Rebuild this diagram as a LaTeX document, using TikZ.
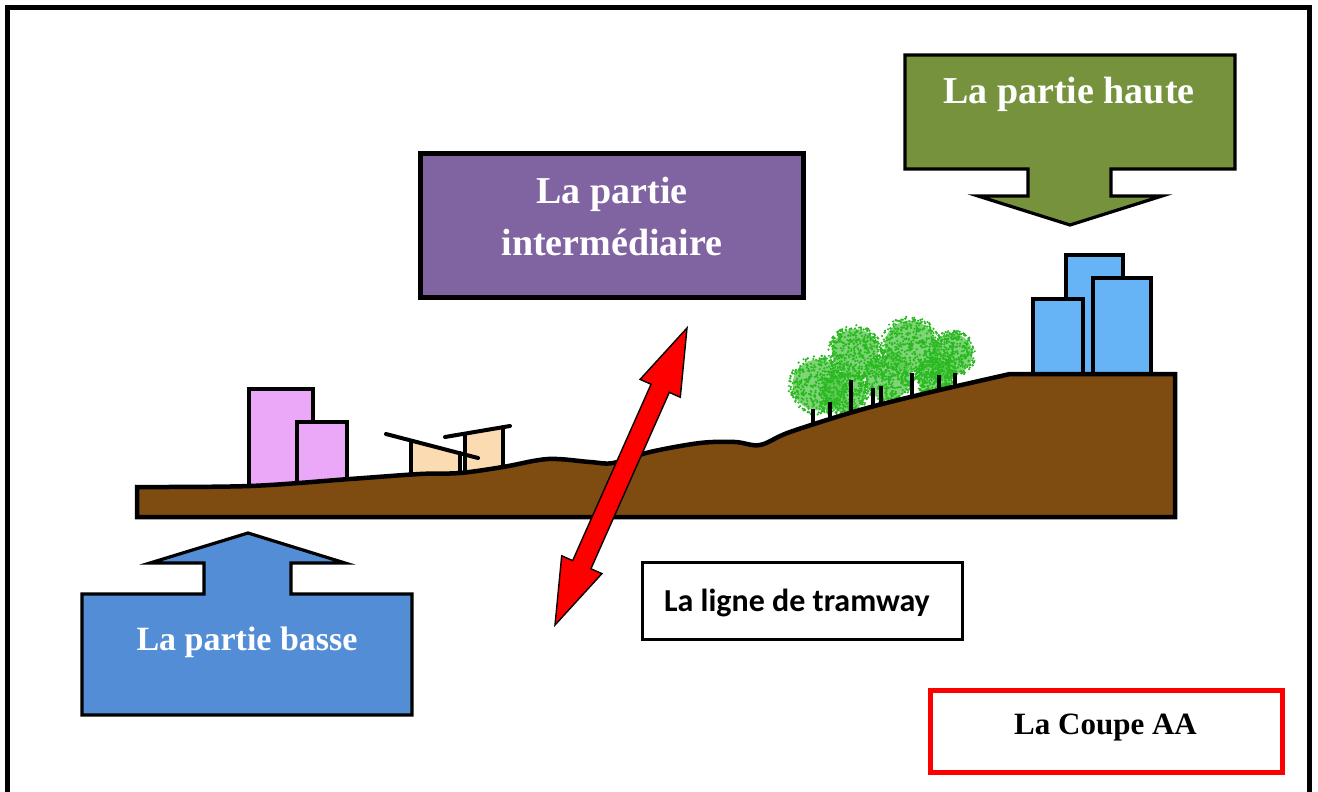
\documentclass[tikz,border=0pt]{standalone}
\usepackage{fontspec}
\setmainfont{Liberation Serif}
\newfontfamily\labelsans{Carlito}
\usetikzlibrary{calc}
\definecolor{groundbrown}{RGB}{126,75,17}
\definecolor{pinkbldg}{RGB}{236,168,248}
\definecolor{tanbldg}{RGB}{250,219,178}
\definecolor{bluebldg}{RGB}{102,180,245}
\definecolor{treegreen}{RGB}{40,185,30}
\definecolor{hautegreen}{RGB}{118,146,60}
\definecolor{bassblue}{RGB}{83,141,213}
\definecolor{midpurple}{RGB}{128,100,162}
\tikzset{
  outline/.style={draw=black, line width=4.5pt, line join=miter},
  bldg/.style={draw=black, line width=4pt},
  post/.style={draw=black, line width=4pt, line cap=round},
  trunk/.style={draw=black, line width=3.2pt},
  blockarrow/.style={draw=black, line width=3.2pt, line join=miter},
  whitelabel/.style={text=white, font=\bfseries\fontsize{38}{52}\selectfont},
  plainbox/.style={draw=black, line width=3pt, fill=white, minimum width=320pt, minimum height=77pt, inner sep=0pt},
}
\begin{document}
\begin{tikzpicture}[x=1pt,y=-1pt]
\useasboundingbox (0,0) rectangle (1318,792);
\fill[white] (0,0) rectangle (1318,792);

% open frame (no bottom edge)
\draw[line width=5pt] (7,792) -- (7,7.5) -- (1309,7.5) -- (1309,792);

% pink buildings of the lower part
\draw[bldg, fill=pinkbldg] (249,389) rectangle (313,492);
\draw[bldg, fill=pinkbldg] (297,422) rectangle (347,492);

% two light pavilions
\fill[tanbldg] (411,440.5) -- (460,453) -- (460,478) -- (411,478) -- cycle;
\fill[tanbldg] (465,433.6) -- (503,427.2) -- (503,474) -- (465,476) -- cycle;
\draw[post] (411,441) -- (411,480);
\draw[post] (460,453) -- (460,478);
\draw[post] (465,434) -- (465,478);
\draw[post] (503,427) -- (503,474);
\draw[post] (386,434) -- (478,458);
\draw[post] (445,437) -- (510,426);

% blue towers of the upper part
\draw[bldg, fill=bluebldg] (1066,255) rectangle (1123,380);
\draw[bldg, fill=bluebldg] (1033,299) rectangle (1083,380);
\draw[bldg, fill=bluebldg] (1093,278) rectangle (1151,380);

% speckled tree crowns
\pgfmathsetseed{4}
\foreach \cx/\cy/\r in {818/385/30, 845/392/24, 855/352/27, 888/378/26, 910/346/30, 952/354/24, 935/378/20}{
  \fill[treegreen!75!white, opacity=0.8] (\cx,\cy) circle (\r*0.85);
  \foreach \k in {1,...,420}{
    \pgfmathsetmacro\ang{360*rnd}
    \pgfmathsetmacro\dst{\r*sqrt(rnd)}
    \fill[treegreen] ({\cx+\dst*cos(\ang)},{\cy+\dst*sin(\ang)}) circle (1.2);
  }
}
% trunks
\foreach \tx/\ty/\tb in {813/409/430, 830/402/425, 851/380/418, 873/388/412, 881/386/410, 912/373/404, 939/375/398, 955/373/394}{
  \draw[trunk] (\tx,\ty) -- (\tx,\tb);
}

% ground section
\draw[outline, fill=groundbrown]
  plot[smooth, tension=0.55] coordinates {(137,487) (250,486) (350,479) (420,474) (460,473) (503,467) (548,459) (590,462) (613,463) (650,452) (700,443) (735,442) (760,445) (790,432) (860,410) (927,393) (1010,374)}
  -- (1175,374) -- (1175,517) -- (137,517) -- cycle;

% tram line crossing
\coordinate (tramtop) at (687,328);
\coordinate (trambot) at (555,625);
\coordinate (headtop) at ($(tramtop)!66pt!(trambot)$);
\coordinate (headbot) at ($(trambot)!66pt!(tramtop)$);
\draw[fill=red, draw=black, line width=1.4pt, line join=miter]
  (tramtop) -- ($(headtop)!22pt!90:(tramtop)$) -- ($(headtop)!10pt!90:(tramtop)$)
  -- ($(headbot)!10pt!-90:(trambot)$) -- ($(headbot)!22pt!-90:(trambot)$)
  -- (trambot) -- ($(headbot)!22pt!90:(trambot)$) -- ($(headbot)!10pt!90:(trambot)$)
  -- ($(headtop)!10pt!-90:(tramtop)$) -- ($(headtop)!22pt!-90:(tramtop)$) -- cycle;

% upper part callout
\draw[blockarrow, fill=hautegreen] (905,55) -- (1235,55) -- (1235,169) -- (1111,169) -- (1111,196) -- (1162,196)
  -- (1070,225) -- (978,196) -- (1028,196) -- (1028,169) -- (905,169) -- cycle;
\node[whitelabel, anchor=base, inner sep=0pt] (haute) at (1069,103) {La partie haute};

% lower part callout
\draw[blockarrow, fill=bassblue] (82,715) -- (82,594) -- (204,594) -- (204,563) -- (150,563) -- (248,533)
  -- (345,563) -- (291,563) -- (291,594) -- (412,594) -- (412,715) -- cycle;
\node[whitelabel, font=\bfseries\fontsize{34}{40}\selectfont, anchor=base, inner sep=0pt] (basse) at (247,650) {La partie basse};

% middle part box
\node[draw=black, line width=5pt, fill=midpurple, minimum width=383pt, minimum height=144pt, inner sep=0pt] (mid) at (611.5,225) {};
\node[whitelabel, anchor=base, inner sep=0pt] (midone) at (612,203) {La partie};
\node[whitelabel, anchor=base, inner sep=0pt] (midtwo) at (612,255) {intermédiaire};

% tram line label
\node[plainbox] (tram) at (802,600.5) {};
\node[font=\labelsans\bfseries\fontsize{32}{36}\selectfont, anchor=base, inner sep=0pt] (tramtext) at (797,611) {La ligne de tramway};

% section title
\node[draw=red, line width=5pt, fill=white, minimum width=352pt, minimum height=82pt, inner sep=0pt] (coupe) at (1106,731) {};
\node[font=\bfseries\fontsize{31}{36}\selectfont, anchor=base, inner sep=0pt] (coupetext) at (1105.5,734) {La Coupe AA};
\end{tikzpicture}
\end{document}
